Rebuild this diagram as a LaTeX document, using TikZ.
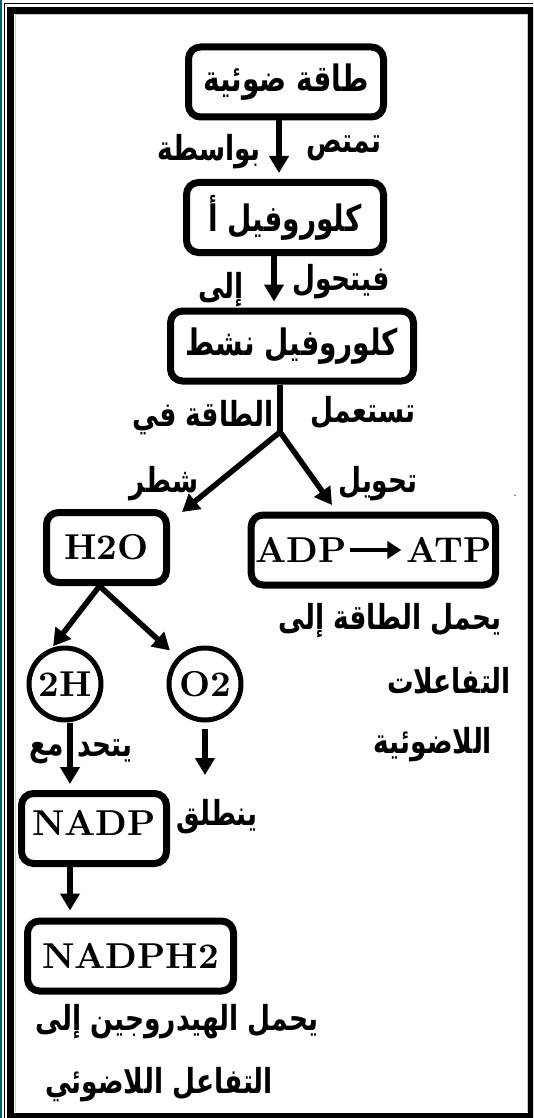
\documentclass[tikz,border=0pt]{standalone}
\usepackage{fontspec}
\newfontfamily\arabicfont[Script=Arabic]{DejaVu Sans}
\newfontfamily\latfont[Extension=.otf]{lmroman10-bold}
\TeXXeTstate=1
\usetikzlibrary{positioning}
\usetikzlibrary{arrows.meta}
\usetikzlibrary{fit}
\newcommand{\arb}[1]{\scalebox{1}[1.3]{\arabicfont\bfseries\beginR #1\endR}}

\begin{document}
\begin{tikzpicture}[x=1pt,y=-1pt,
	box/.style={draw,rectangle,rounded corners=12pt,line width=7pt,minimum height=70pt,inner sep=0pt},
	blob/.style={draw,circle,line width=5pt,minimum size=72pt,inner sep=0pt},
	lat/.style={font=\latfont\fontsize{36}{40}\selectfont},
	arlbl/.style={font=\fontsize{26.5}{30}\selectfont,inner sep=0pt},
	arbox/.style={font=\fontsize{28}{32}\selectfont},
	arr/.style={line width=5.5pt,-{Triangle[length=17pt,width=19pt]}},
	stem/.style={line width=5.5pt}]
	\clip (0,0) rectangle (533,1118);
	% frame
	\fill[teal!75!black] (0,0) rectangle (2,1118);
	\draw[line width=1.2pt] (4.5,1118) -- (4.5,3.5) -- (533,3.5);
	\draw[line width=7pt] (10.5,10.5) rectangle (531.5,1116);
	\draw[gray!40,line width=1pt] (15,1112) -- (15,15) -- (527,15) -- (527,1112);

	\node[box,minimum width=195pt,arbox] at (286,82) (light) {\arb{طاقة ضوئية}};
	\node[box,minimum width=197pt,arbox] at (285,217.5) (chla) {\arb{كلوروفيل أ}};
	\node[box,minimum width=243pt,arbox] at (292,346) (active) {\arb{كلوروفيل نشط}};

	\node[box,minimum width=120pt,lat] at (106.5,547.5) (water) {H2O};
	\node[lat,inner sep=0pt] at (301,550) (adp) {ADP};
	\node[lat,inner sep=0pt] at (449,550) (atp) {ATP};
	\node[box,fit=(adp)(atp),inner xsep=4pt] (energy) {};

	\node[blob,lat] at (65,684) (twoh) {2H};
	\node[blob,lat] at (205,684) (otwo) {O2};
	\node[box,minimum width=145pt,lat,text depth=12pt] at (94,828.5) (nadp) {NADP};
	\node[box,minimum width=206pt,lat] at (130.5,956) (nadph) {NADPH2};

	% labels
	\node[arlbl] at (344,148) (absorb) {\arb{تمتص}};
	\node[arlbl] at (209,152) (by) {\arb{بواسطة}};
	\node[arlbl] at (341,282) (turns) {\arb{فيتحول}};
	\node[arlbl] at (221,290) (into) {\arb{إلى}};
	\node[arlbl] at (363,413) (uses) {\arb{تستعمل}};
	\node[arlbl] at (203,418) (energyin) {\arb{الطاقة في}};
	\node[arlbl] at (164,484) (split) {\arb{شطر}};
	\node[arlbl] at (378,484) (convert) {\arb{تحويل}};
	\node[font=\fontsize{16}{16}\selectfont,inner sep=0pt] at (515,496) (dot) {.};
	\node[arlbl] at (390,621) (carry1) {\arb{يحمل الطاقة إلى}};
	\node[arlbl] at (449,681) (carry2) {\arb{التفاعلات}};
	\node[arlbl] at (433,745) (carry3) {\arb{اللاضوئية}};
	\node[arlbl] at (105,751) (unite) {\arb{يتحد}};
	\node[arlbl] at (47,753) (with) {\arb{مع}};
	\node[arlbl] at (217,817) (freed) {\arb{ينطلق}};
	\node[arlbl] at (177,1022) (hyd1) {\arb{يحمل الهيدروجين إلى}};
	\node[arlbl] at (159,1085) (hyd2) {\arb{التفاعل اللاضوئي}};

	\coordinate (fork) at (280,432);
	\coordinate (tosplit) at (182,512);
	\coordinate (toconvert) at (332,505);
	\coordinate (release) at (205,775);

	\draw[arr,shorten >=6pt] ([xshift=-7pt]light.south) -- ([xshift=-7pt]light.south |- chla.north);
	\draw[arr,shorten >=6pt] ([xshift=-11pt]chla.south) -- ([xshift=-11pt]chla.south |- active.north);
	\draw[stem] (active.south -| fork) -- (fork);
	\draw[arr] (fork) -- (tosplit);
	\draw[arr] (fork) -- (toconvert);
	\draw[line width=4pt,-{Triangle[length=14pt,width=17pt]},shorten <=3pt,shorten >=5pt] (adp) -- (atp);
	\draw[arr,shorten >=2pt] ([xshift=-7pt]water.south) -- (twoh.110);
	\draw[arr,shorten >=10pt] ([xshift=-7pt]water.south) -- (otwo.136);
	\draw[arr,shorten >=6pt] ([xshift=5pt]twoh.south) -- ([xshift=5pt]twoh.south |- nadp.north);
	\draw[arr] ([yshift=-6pt]otwo.south) -- (release);
	\draw[arr,shorten >=7pt] ([xshift=-24pt]nadp.south) -- ([xshift=-24pt]nadp.south |- nadph.north);
\end{tikzpicture}
\end{document}
